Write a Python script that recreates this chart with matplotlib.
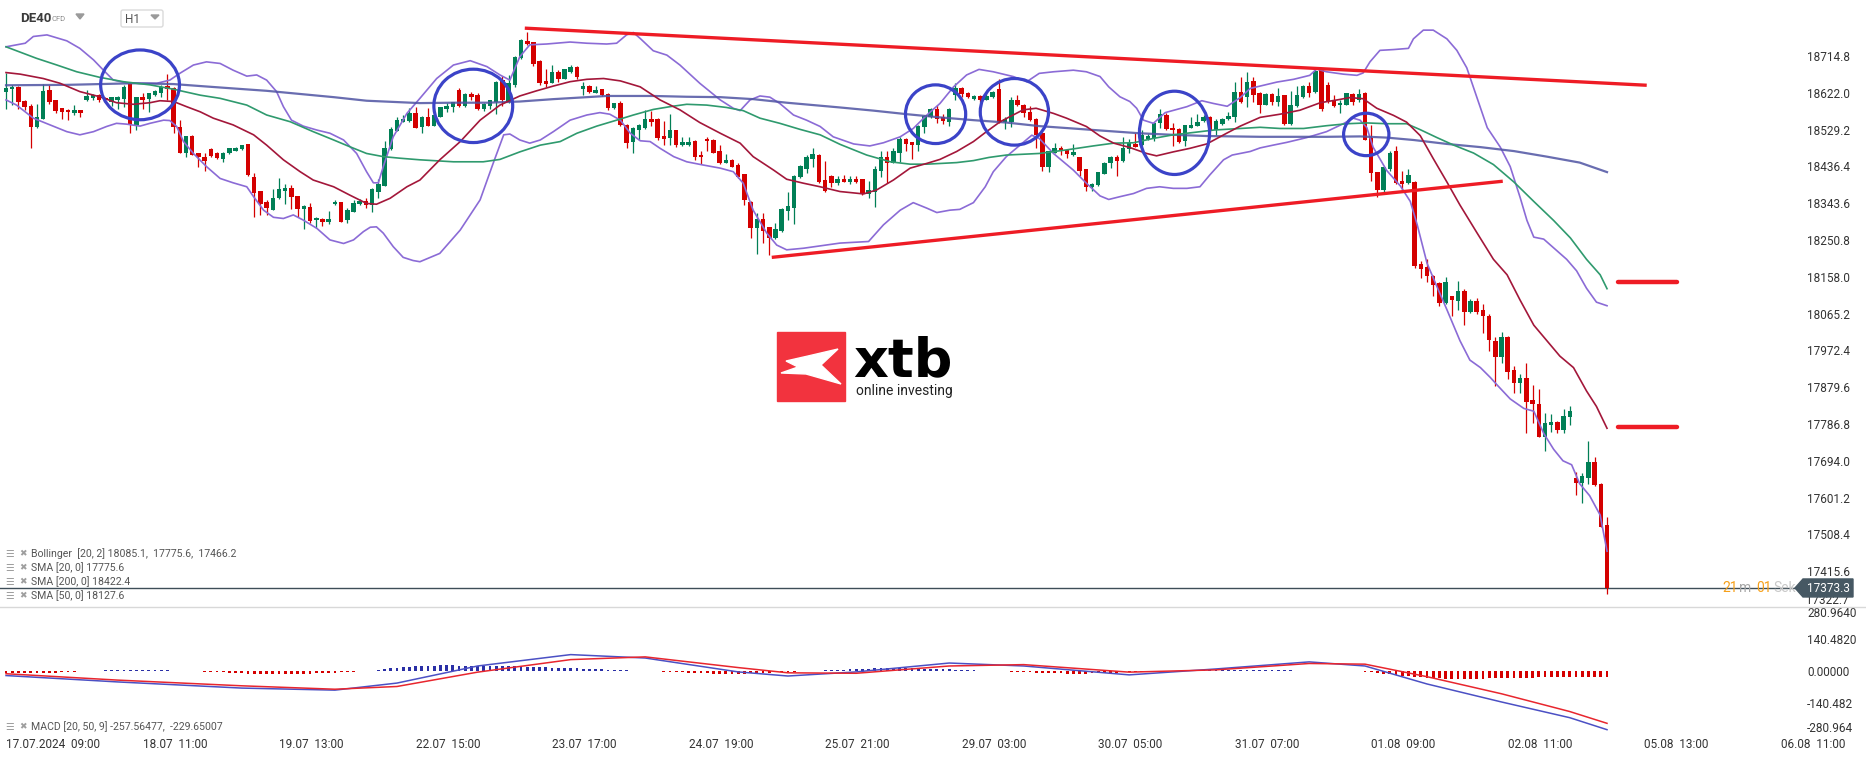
import numpy as np
import matplotlib
matplotlib.use('Agg')
import matplotlib.pyplot as plt
from matplotlib.patches import Ellipse, Polygon, Rectangle, FancyBboxPatch

plt.rcParams['font.family'] = ['Roboto', 'DejaVu Sans']

# ---------------- DATA (DE40, H1 candles) ----------------
opens = [18623,18631,18636,18601,18589,18535,18557,18628,18604,18583,
         18579,18572,18579,18603,18610,18616,18609,18600,18604,18607,
         18645,18541,18611,18607,18617,18622,18639,18634,18535,18471,
         18514,18469,18461,18481,18469,18456,18469,18476,18479,18493,
         18410,18374,18347,18326,18356,18375,18383,18362,18328,18334,
         18300,18304,18296,18341,18347,18300,18322,18341,18349,18339,
         18373,18388,18479,18526,18549,18552,18570,18535,18562,18538,
         18562,18582,18587,18629,18589,18619,18616,18582,18589,18600,
         18654,18600,18642,18709,18753,18750,18702,18652,18647,18675,
         18658,18675,18688,18632,18639,18622,18631,18619,18583,18597,
         18541,18499,18528,18532,18557,18555,18513,18507,18527,18491,
         18491,18500,18465,18506,18503,18475,18446,18453,18439,18416,
         18347,18281,18303,18283,18255,18274,18325,18331,18409,18431,
         18456,18465,18402,18413,18394,18404,18398,18404,18404,18367,
         18373,18426,18461,18446,18469,18506,18498,18491,18535,18560,
         18580,18560,18549,18616,18633,18622,18607,18614,18605,18611,
         18631,18549,18549,18604,18592,18573,18556,18520,18436,18471,
         18484,18478,18466,18460,18429,18384,18389,18417,18444,18461,
         18451,18481,18492,18490,18506,18507,18545,18566,18533,18530,
         18501,18533,18538,18552,18562,18527,18543,18555,18560,18624,
         18611,18652,18622,18592,18620,18600,18617,18544,18588,18612,
         18639,18624,18682,18641,18602,18590,18592,18620,18604,18622,
         18508,18422,18378,18431,18475,18399,18394,18397,18190,18182,
         18159,18143,18091,18109,18096,18122,18069,18097,18075,18060,
         17997,17956,18007,17924,17890,17903,17848,17837,17755,17785,
         17792,17772,17804,17650,17638,17651,17691,17636,17532]
highs = [18673,18642,18638,18604,18594,18594,18644,18642,18604,18583,
         18582,18592,18579,18629,18619,18619,18612,18612,18614,18642,
         18649,18612,18621,18622,18629,18642,18669,18637,18553,18513,
         18516,18471,18469,18483,18473,18472,18484,18486,18490,18493,
         18419,18375,18352,18379,18407,18392,18390,18362,18339,18345,
         18310,18305,18323,18352,18347,18331,18352,18355,18356,18381,
         18404,18500,18535,18562,18566,18583,18585,18563,18584,18567,
         18587,18595,18600,18634,18621,18625,18621,18595,18605,18652,
         18664,18667,18715,18757,18775,18751,18705,18683,18692,18680,
         18683,18692,18690,18650,18641,18639,18631,18621,18595,18601,
         18543,18535,18543,18579,18577,18558,18552,18569,18528,18511,
         18511,18503,18476,18511,18505,18490,18467,18454,18446,18417,
         18350,18320,18318,18284,18294,18331,18372,18414,18439,18465,
         18484,18467,18451,18415,18411,18415,18411,18412,18405,18399,
         18437,18476,18476,18484,18510,18508,18498,18540,18566,18583,
         18591,18568,18583,18647,18637,18625,18617,18616,18625,18627,
         18658,18560,18612,18616,18594,18589,18558,18521,18476,18495,
         18488,18479,18493,18461,18431,18395,18423,18448,18463,18464,
         18510,18506,18521,18528,18518,18548,18580,18572,18545,18532,
         18542,18562,18568,18566,18563,18555,18559,18574,18649,18661,
         18674,18663,18624,18622,18622,18633,18617,18627,18639,18641,
         18649,18682,18685,18649,18616,18604,18622,18622,18631,18624,
         18542,18423,18436,18475,18487,18426,18430,18399,18198,18202,
         18163,18145,18157,18110,18147,18126,18102,18104,18089,18063,
         18005,18018,18009,17933,17914,17940,17884,17874,17815,17813,
         17794,17825,17831,17665,17663,17745,17704,17638,17553]
lows = [18580,18591,18580,18579,18484,18533,18555,18594,18572,18557,
        18553,18566,18562,18602,18605,18599,18600,18589,18582,18587,
        18521,18527,18580,18574,18614,18612,18604,18521,18469,18459,
        18465,18434,18426,18461,18454,18447,18468,18474,18478,18411,
        18310,18314,18314,18326,18354,18342,18329,18308,18278,18293,
        18280,18286,18291,18339,18297,18294,18321,18339,18331,18322,
        18356,18388,18478,18525,18549,18549,18532,18521,18537,18537,
        18560,18574,18574,18585,18587,18604,18579,18577,18580,18568,
        18589,18595,18637,18706,18743,18690,18642,18636,18646,18650,
        18656,18673,18656,18617,18622,18621,18614,18579,18580,18538,
        18482,18471,18503,18530,18538,18503,18490,18490,18486,18489,
        18489,18453,18442,18476,18469,18442,18444,18434,18406,18338,
        18257,18215,18242,18213,18254,18272,18301,18291,18406,18419,
        18436,18394,18373,18385,18390,18397,18392,18395,18363,18357,
        18333,18409,18395,18444,18448,18474,18454,18474,18520,18558,
        18545,18543,18537,18604,18612,18608,18605,18600,18604,18608,
        18545,18530,18535,18589,18562,18552,18482,18426,18421,18469,
        18465,18458,18463,18411,18375,18375,18387,18417,18432,18411,
        18448,18471,18486,18488,18503,18501,18532,18527,18489,18495,
        18488,18532,18537,18549,18523,18516,18542,18553,18549,18595,
        18585,18600,18571,18590,18590,18588,18540,18542,18586,18610,
        18612,18622,18575,18596,18587,18571,18590,18592,18598,18503,
        18399,18360,18372,18426,18393,18376,18391,18180,18155,18145,
        18109,18085,18089,18060,18075,18036,18067,18065,18016,17972,
        17882,17940,17901,17866,17864,17763,17790,17753,17718,17767,
        17765,17765,17784,17608,17587,17636,17631,17526,17357]
closes = [18633,18636,18600,18585,18535,18560,18627,18600,18577,18574,
          18573,18579,18572,18613,18616,18605,18604,18611,18611,18636,
          18541,18611,18604,18621,18627,18637,18631,18535,18471,18513,
          18466,18459,18449,18463,18458,18470,18483,18483,18490,18415,
          18370,18342,18331,18356,18379,18382,18360,18328,18337,18299,
          18306,18297,18304,18347,18297,18326,18343,18348,18338,18379,
          18392,18483,18531,18553,18556,18570,18533,18562,18538,18565,
          18585,18589,18599,18589,18619,18612,18580,18594,18604,18649,
          18604,18646,18713,18755,18745,18694,18647,18644,18674,18656,
          18681,18686,18661,18639,18624,18629,18616,18584,18595,18541,
          18496,18532,18540,18557,18549,18507,18506,18528,18490,18498,
          18498,18461,18459,18500,18471,18446,18453,18436,18409,18352,
          18282,18303,18274,18257,18278,18329,18336,18412,18437,18461,
          18468,18397,18375,18394,18404,18398,18405,18397,18367,18377,
          18431,18461,18446,18475,18506,18492,18490,18538,18564,18580,
          18556,18550,18580,18634,18619,18611,18614,18605,18614,18625,
          18549,18555,18605,18590,18570,18553,18516,18436,18475,18484,
          18476,18467,18473,18426,18384,18392,18422,18446,18461,18451,
          18484,18495,18486,18515,18513,18547,18568,18530,18527,18499,
          18541,18541,18548,18560,18525,18551,18555,18563,18624,18600,
          18650,18616,18592,18620,18600,18614,18544,18592,18617,18639,
          18622,18678,18581,18598,18589,18597,18622,18598,18619,18504,
          18419,18378,18434,18470,18395,18393,18414,18184,18177,18159,
          18138,18093,18145,18100,18122,18069,18098,18069,18059,17999,
          17956,18007,17919,17890,17903,17843,17836,17755,17789,17792,
          17772,17807,17819,17638,17655,17692,17633,17528,17373.3]

# indicator lines (bar position, price)
sma20_x = [0,2.3,6.0,8.7,11.9,15.1,17.8,20.5,23.2,24.8,27.0,29.1,31.3,33.4,36.6,39.9,42.0,44.7,47.4,49.5,
           52.8,55.4,58.1,59.7,61.9,64.6,66.7,69.9,73.2,76.4,79.6,82.8,85.5,88.2,90.9,93.6,96.3,99.0,102.2,105.4,
           108.6,111.8,115.1,118.3,120.4,123.7,125.8,128.5,131.2,134.4,138.2,140.3,143.0,145.7,148.4,150.5,153.2,155.9,158.0,160.2,
           162.3,163.9,166.0,168.8,170.9,174.1,176.3,178.5,181.1,183.8,185.4,188.1,190.8,193.5,196.7,198.9,202.1,205.3,208.5,211.8,
           214.5,216.6,218.7,220.9,223.6,225.7,227.9,230.0,232.2,234.3,237.0,239.7,241.9,244.0,246.2,248.3,250.4,252.6,254.7,256.3,258.0]
sma20_y = [18673,18669,18658,18646,18625,18612,18597,18593,18597,18602,18600,18587,18574,18558,18541,18516,18490,18453,18423,18402,
           18385,18364,18343,18341,18356,18385,18402,18453,18499,18553,18591,18614,18627,18639,18650,18656,18658,18652,18637,18604,
           18579,18547,18520,18495,18461,18427,18404,18394,18385,18373,18367,18377,18402,18432,18444,18454,18474,18499,18524,18549,
           18566,18579,18583,18570,18558,18537,18513,18495,18484,18469,18463,18473,18482,18493,18520,18538,18560,18568,18578,18597,
           18604,18610,18607,18583,18565,18548,18514,18456,18397,18339,18270,18202,18163,18099,18036,17997,17958,17929,17870,17831,17776]

sma50_x = [0,4.9,8.2,11.4,15.1,18.9,23.2,27.0,31.3,34.5,38.8,42.0,45.8,49.5,52.8,55.4,58.1,60.8,63.5,66.7,
           72.1,76.9,79.6,82.8,86.1,89.3,92.0,95.2,98.4,101.1,104.3,107.0,109.7,112.9,116.1,118.8,121.5,124.7,127.9,131.2,
           134.4,138.7,142.5,145.7,148.4,153.2,155.9,158.4,161.2,166.5,170.9,175.2,178.5,181.7,184.9,188.1,191.4,194.6,198.9,202.1,
           205.3,209.1,212.8,216.1,219.3,222.5,225.7,227.9,230.6,233.3,236.5,239.7,243.0,246.2,249.4,252.1,254.7,256.9,258.0]
sma50_y = [18738,18709,18692,18675,18661,18650,18642,18631,18616,18608,18591,18566,18549,18524,18503,18486,18469,18461,18457,18453,
           18448,18448,18454,18473,18490,18499,18520,18538,18553,18566,18580,18587,18593,18591,18585,18577,18558,18545,18530,18516,
           18492,18465,18448,18442,18442,18446,18451,18459,18465,18469,18478,18488,18495,18496,18507,18516,18522,18528,18532,18535,
           18532,18532,18539,18544,18546,18544,18544,18529,18509,18490,18470,18441,18397,18348,18300,18256,18202,18163,18128]

sma200_x = [0,9.8,20.5,27.0,31.3,36.6,42.0,47.4,52.8,58.1,66.7,72.1,77.5,82.8,88.2,93.6,96.8,104.3,109.7,115.1,
            120.4,125.8,134.4,139.8,145.2,150.5,155.9,161.2,166.5,171.9,177.2,182.6,188.1,193.5,202.1,207.5,212.8,218.2,222.5,226.8,
            232.2,237.6,243.0,248.3,253.6,258.0]
sma200_y = [18641,18642,18646,18644,18639,18633,18627,18619,18611,18602,18596,18597,18597,18600,18606,18611,18614,18614,18612,18611,
            18606,18597,18585,18577,18568,18560,18553,18547,18538,18532,18526,18520,18516,18513,18511,18511,18511,18512,18509,18503,
            18493,18485,18475,18461,18446,18422]

bbu_x = [0,3.1,4.4,6.6,9.8,11.9,14.1,15.7,17.3,19.4,21.6,24.3,26.4,28.0,30.2,32.3,34.5,36.6,38.8,40.4,
         42.0,43.6,44.7,46.0,47.9,50.1,52.2,54.4,56.5,58.1,59.2,60.0,60.8,62.4,64.6,66.7,69.4,72.1,74.8,77.5,
         79.6,81.2,82.8,84.4,87.1,90.9,93.6,96.8,98.4,100.0,101.1,102.2,104.3,106.5,108.6,111.8,115.1,117.2,118.3,119.9,
         121.5,123.1,124.7,126.9,129.0,131.2,133.3,136.6,139.2,141.4,144.1,146.2,148.4,150.5,152.7,154.8,156.8,159.1,162.3,164.5,
         166.5,168.8,172.0,174.1,176.3,177.7,179.5,181.1,182.2,183.3,184.9,186.8,190.3,192.7,194.6,196.8,198.9,200.5,202.1,204.8,
         207.5,210.1,211.2,212.8,215.5,217.7,218.7,219.8,221.4,223.6,226.0,226.8,228.4,230.0,232.2,233.8,235.4,237.0,238.7,240.8,
         242.4,244.0,245.1,246.2,247.8,249.4,251.5,253.1,254.7,256.3,258.0]
bbu_y = [18738,18747,18764,18768,18753,18734,18705,18679,18654,18647,18646,18646,18654,18671,18692,18700,18696,18679,18664,18667,
         18654,18625,18587,18553,18538,18528,18520,18503,18469,18423,18395,18395,18436,18511,18570,18608,18658,18692,18703,18688,
         18667,18654,18713,18743,18745,18750,18747,18745,18747,18768,18774,18759,18728,18717,18692,18646,18604,18583,18577,18604,
         18614,18611,18595,18566,18553,18537,18511,18493,18488,18496,18511,18532,18566,18595,18637,18667,18681,18675,18663,18650,
         18671,18675,18679,18675,18663,18637,18612,18600,18583,18553,18545,18572,18587,18602,18595,18588,18610,18633,18639,18649,
         18656,18666,18682,18675,18669,18666,18672,18700,18729,18731,18734,18758,18780,18780,18758,18729,18685,18612,18534,18485,
         18436,18358,18300,18258,18253,18231,18202,18173,18129,18094,18085]

bbl_x = [0,1.7,4.4,7.1,9.8,11.9,14.1,16.2,17.8,19.4,21.6,23.2,25.4,26.4,27.5,28.6,30.2,32.3,34.5,36.6,
         38.8,39.9,41.5,43.1,44.7,46.3,47.9,50.1,52.2,54.4,56.0,57.6,58.7,59.7,60.8,62.4,64.0,65.6,66.7,69.9,
         73.2,76.4,78.5,80.2,81.2,82.8,84.4,86.1,88.2,90.9,93.6,95.7,97.3,99.0,100.6,102.2,103.8,105.4,107.6,109.7,
         112.3,115.1,117.2,118.8,120.4,122.6,124.2,125.8,128.5,131.2,134.4,139.0,141.4,144.1,146.2,148.4,150.0,152.1,153.7,155.9,
         157.8,159.1,161.2,163.4,165.3,166.5,168.8,172.0,174.1,176.3,177.7,179.5,181.7,183.8,185.9,188.1,190.3,192.4,194.0,196.2,
         197.6,200.5,202.1,204.2,206.4,209.6,212.8,215.5,217.1,218.2,219.3,220.3,222.5,224.7,226.3,227.4,229.0,230.6,232.2,234.3,
         235.9,237.6,239.2,240.3,242.4,244.6,246.2,247.8,249.4,250.9,252.3,253.6,255.2,256.9,258.0]
bbl_y = [18604,18591,18558,18541,18524,18516,18524,18537,18545,18543,18538,18545,18553,18552,18537,18499,18469,18436,18406,18395,
         18385,18360,18326,18308,18305,18314,18301,18280,18251,18242,18251,18272,18283,18284,18268,18234,18207,18199,18196,18217,
         18276,18352,18444,18516,18518,18503,18495,18503,18524,18553,18566,18572,18568,18553,18520,18501,18499,18482,18461,18448,
         18440,18432,18423,18394,18326,18268,18238,18226,18230,18236,18243,18247,18289,18326,18345,18331,18320,18326,18328,18345,
         18385,18423,18461,18490,18515,18507,18469,18427,18394,18362,18353,18360,18368,18381,18385,18381,18381,18385,18415,18453,
         18465,18474,18483,18490,18497,18509,18524,18544,18558,18553,18534,18485,18426,18387,18348,18290,18192,18133,18075,17997,
         17948,17929,17904,17885,17850,17826,17819,17763,17723,17694,17684,17636,17606,17557,17466]

# MACD (20, 50, 9): line, signal and histogram
macd_x = [0,18,38,53,63,76,91,103,118,126,137,152,164,181,195,210,219,229,241,252,258]
macd_y = [-20,-48,-75,-84,-53,22,72,57,-4,-22,-4,35,22,-17,9,40,22,-57,-136,-205,-257.6]
signal_x = [0,18,38,53,63,76,91,103,118,126,137,152,164,181,195,210,219,229,241,252,258]
signal_y = [-12,-40,-65,-80,-68,-5,50,62,15,-8,-10,22,28,-5,5,33,30,-25,-100,-178,-229.7]
macd_hist = [-8,-8,-9,-9,-10,-10,-9,-8,-7,-6,-5,-3,
             -1,0,1,2,3,
             4,5,5,6,6,6,5,5,4,3,2,1,0,-1,-2,-3,-4,
             -5,-6,-8,-9,-10,-11,-12,-13,-14,-14,-14,-13,-13,-12,-12,-11,-10,-9,-8,-7,-6,-5,-4,-2,0,2,
             5,8,11,14,17,19,21,22,23,24,25,25,25,24,24,23,23,22,22,22,22,21,21,20,19,18,17,16,15,14,
             13,12,11,10,9,8,7,6,5,4,3,2,1,0,-1,-2,-3,-4,-5,-6,
             -7,-8,-9,-10,-11,-12,-12,-12,-12,-11,-10,-9,-8,-7,-6,-5,-4,-3,-2,-1,
             1,2,3,4,5,6,7,8,9,10,11,12,12,12,12,11,11,10,10,9,9,8,7,6,5,4,3,2,1,0,-1,-2,-3,-4,-5,-6,
             -7,-8,-9,-10,-10,-11,-11,-11,-11,-10,-10,-9,-8,-7,-6,-5,-4,-3,
             -2,-1,0,1,1,2,2,3,3,3,3,3,3,4,4,4,5,5,5,5,5,4,4,3,2,1,
             1,1,2,2,2,1,1,0,-1,
             -3,-5,-8,-11,-14,-17,-20,-22,-25,-28,-30,-31,-32,-33,-33,-34,-34,-34,-33,-33,
             -32,-32,-31,-31,-30,-30,-29,-29,-28,-28,-27,-27,-27,-26,-26,-26,-27,-27,-28,-28]

tick_bars = [0,22,44,66,88,110,132,154,176,198,220,242,264,286]
tick_labels = ['17.07.2024  09:00','18.07  11:00','19.07  13:00','22.07  15:00','23.07  17:00',
               '24.07  19:00','25.07  21:00','29.07  03:00','30.07  05:00','31.07  07:00',
               '01.08  09:00','02.08  11:00','05.08  13:00','06.08  11:00']
price_ticks = [18714.8,18622.0,18529.2,18436.4,18343.6,18250.8,18158.0,18065.2,
               17972.4,17879.6,17786.8,17694.0,17601.2,17508.4,17415.6]
macd_ticks = [280.964,140.482,0.0,-140.482,-280.964]
macd_tick_labels = ['280.9640','140.4820','0.00000','-140.482','-280.964']

# annotations drawn by the analyst (bar position, price)
resistance = ([83.6,264.4],[18785,18641])
support = ([123.4,241.2],[18207,18399])
targets = [18146,17778]
circles = [(21.6,18642,12.7,176),(75.3,18589,12.7,185),(149.8,18568,9.7,148),
           (162.5,18574,11.0,168),(188.3,18521,11.3,210),(219.2,18517,7.3,107)]
last_price = 17373.3

# ---------------- FIGURE ----------------
W, H = 1866, 759
fig = plt.figure(figsize=(W/100, H/100), dpi=100)
fig.patch.set_facecolor('white')

right = 1800/W
ax = fig.add_axes([0, 1-607/H, right, 607/H])
axm = fig.add_axes([0, 1-735/H, right, 128/H])

GREEN = '#017f56'
RED = '#d40000'
txtc = '#333333'

n = len(closes)
x = np.arange(n)
o = np.array(opens, float); c = np.array(closes, float)
hi = np.array(highs, float); lo = np.array(lows, float)
up = c >= o
cols = np.where(up, GREEN, RED)
ax.vlines(x, lo, hi, colors=cols, lw=0.9, zorder=2)
body_b = np.minimum(o, c)
body_h = np.maximum(np.abs(c - o), 2.5)
ax.bar(x, body_h, bottom=body_b, width=0.72, color=cols, zorder=3, linewidth=0)

ax.plot(bbu_x, bbu_y, color='#8b6bd6', lw=1.2, zorder=4)
ax.plot(bbl_x, bbl_y, color='#8b6bd6', lw=1.2, zorder=4)
ax.plot(sma200_x, sma200_y, color='#4f54a3', lw=1.6, alpha=0.85, zorder=4)
ax.plot(sma50_x, sma50_y, color='#2f9a6e', lw=1.2, zorder=4)
ax.plot(sma20_x, sma20_y, color='#a3173a', lw=1.2, zorder=4)

ax.plot(resistance[0], resistance[1], color='#ee1c25', lw=2.4, zorder=5, solid_capstyle='butt')
ax.plot(support[0], support[1], color='#ee1c25', lw=2.4, zorder=5, solid_capstyle='butt')
for t in targets:
    ax.plot([259.7, 269.2], [t, t], color='#ee1c25', lw=3.2, zorder=5, solid_capstyle='round')
for (cx, cy, cw, ch) in circles:
    ax.add_patch(Ellipse((cx, cy), cw, ch, fill=False, edgecolor='#3b43c8', lw=2.3, zorder=6))

ax.axhline(last_price, color='#3e4e58', lw=1.0, zorder=1)

ax.set_xlim(-0.97, 289.1)
ax.set_ylim(17325.3, 18856.0)
ax.yaxis.tick_right()
ax.set_yticks(price_ticks)
ax.set_yticklabels([f'{v:.1f}' for v in price_ticks])
ax.tick_params(axis='y', length=0, pad=5, labelsize=8.5, labelcolor=txtc)
ax.set_xticks([])
for s in ax.spines.values():
    s.set_visible(False)
ax.text(1.0, 0.0, '  17322.7', transform=ax.transAxes, ha='left', va='bottom',
        fontsize=8.5, color=txtc, clip_on=False)

# MACD panel
hist = np.array(macd_hist, float)
axm.bar(x, hist, width=0.45, color=np.where(hist >= 0, '#2a2fa6', '#d50000'), linewidth=0, zorder=2)
axm.plot(macd_x, macd_y, color='#4b50c4', lw=1.1, zorder=3)
axm.plot(signal_x, signal_y, color='#e8262e', lw=1.1, zorder=3)
axm.set_xlim(-0.97, 289.1)
axm.set_ylim(-280.964, 280.964)
axm.yaxis.tick_right()
axm.set_yticks(macd_ticks)
axm.set_yticklabels(macd_tick_labels)
axm.tick_params(axis='y', length=0, pad=5, labelsize=8.5, labelcolor=txtc)
ylabs = axm.get_yticklabels()
ylabs[0].set_va('top'); ylabs[-1].set_va('bottom')
axm.set_xticks(tick_bars)
axm.set_xticklabels(tick_labels, ha='left')
axm.tick_params(axis='x', length=0, pad=2, labelsize=8.5, labelcolor=txtc)
for s in axm.spines.values():
    s.set_visible(False)

# overlay in pixel space for decorations
ov = fig.add_axes([0, 0, 1, 1], zorder=10)
ov.set_xlim(0, W); ov.set_ylim(H, 0); ov.axis('off')
ov.patch.set_alpha(0)

ov.plot([0, W], [607, 607], color='#d8d8d8', lw=1)

# header
ov.text(20, 19, 'DE40', fontsize=9.5, fontweight='bold', color='#3b3b3b', va='center')
ov.text(52, 19, 'CFD', fontsize=5.5, color='#8c8c8c', va='center')
ov.add_patch(Polygon([(76, 14), (84, 14), (80, 19)], closed=True, color='#9a9a9a'))
ov.add_patch(FancyBboxPatch((121, 10), 42, 17, boxstyle='round,pad=0,rounding_size=2',
                            fc='white', ec='#dadada', lw=1))
ov.text(125, 19.5, 'H1', fontsize=8.5, color='#555555', va='center')
ov.add_patch(Polygon([(151, 15), (159, 15), (155, 19)], closed=True, color='#9a9a9a'))

# legend lines
leg = ['Bollinger  [20, 2] 18085.1,  17775.6,  17466.2', 'SMA [20, 0] 17775.6',
       'SMA [200, 0] 18422.4', 'SMA [50, 0] 18127.6']
for i, s in enumerate(leg):
    yy = 554 + 14 * i
    ov.text(5, yy, '☰', fontsize=7, color='#9e9e9e', va='center', family='DejaVu Sans')
    ov.text(19, yy, '✖', fontsize=6.5, color='#9e9e9e', va='center', family='DejaVu Sans')
    ov.text(31, yy, s, fontsize=7.6, color='#555555', va='center')
ov.text(5, 727, '☰', fontsize=7, color='#9e9e9e', va='center', family='DejaVu Sans')
ov.text(19, 727, '✖', fontsize=6.5, color='#9e9e9e', va='center', family='DejaVu Sans')
ov.text(31, 727, 'MACD [20, 50, 9] -257.56477,  -229.65007', fontsize=7.6, color='#555555', va='center')

# last price box and countdown
fig.canvas.draw()
yp = H - ax.transData.transform((0, last_price))[1]
ov.add_patch(Polygon([(1795, yp), (1803, yp - 9), (1853, yp - 9), (1853, yp + 9), (1803, yp + 9)],
                     closed=True, color='#465863', zorder=11))
ov.text(1807, yp + 0.5, '17373.3', fontsize=8.5, color='white', va='center', zorder=12)
ov.text(1722, yp, '21', fontsize=10, color='#f6a01a', va='center')
ov.text(1739, yp, 'm', fontsize=10, color='#a8a8a8', va='center')
ov.text(1756, yp, '01', fontsize=10, color='#f6a01a', va='center')
ov.text(1773, yp, 'Sek', fontsize=10, color='#c8c8c8', va='center')

# xtb logo
ov.add_patch(Rectangle((777, 332), 68, 69, color='#f2333e'))
ov.add_patch(Polygon([(786, 361), (808, 356), (838, 349), (821, 365), (841, 384),
                      (806, 374), (781, 373), (798, 367)],
                     closed=True, color='white'))
ov.text(853, 376, 'xtb', fontsize=39, fontweight='bold', color='black', va='baseline',
        family='DejaVu Sans')
ov.text(856, 395, 'online investing', fontsize=10, color='#222222', va='baseline')

fig.savefig('out.png', dpi=100)
